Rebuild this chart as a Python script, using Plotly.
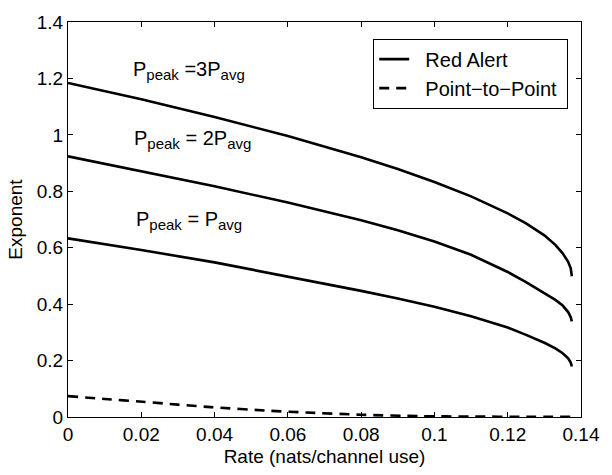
import plotly.graph_objects as go

# ---- data ----
rate_red = [0.0, 0.02, 0.04, 0.06, 0.08, 0.09, 0.10, 0.11, 0.12, 0.125, 0.13,
            0.133, 0.135, 0.1365, 0.1372, 0.1375]
exp_3p = [1.184, 1.126, 1.063, 0.996, 0.921, 0.879, 0.833, 0.782, 0.722, 0.686, 0.644,
          0.610, 0.580, 0.550, 0.527, 0.499]
exp_2p = [0.924, 0.872, 0.818, 0.760, 0.697, 0.662, 0.622, 0.575, 0.514, 0.478, 0.440,
          0.415, 0.395, 0.372, 0.354, 0.339]
exp_1p = [0.633, 0.592, 0.548, 0.498, 0.447, 0.420, 0.391, 0.357, 0.317, 0.291, 0.263,
          0.243, 0.226, 0.208, 0.193, 0.179]

rate_p2p = [0.0, 0.01, 0.0203, 0.03, 0.039, 0.055, 0.065, 0.08, 0.0964, 0.11, 0.125, 0.1375]
exp_p2p = [0.074, 0.064, 0.054, 0.044, 0.035, 0.022, 0.016, 0.008, 0.003, 0.0015, 0.0008, 0.0005]

SUB = "<sub><span style='font-size:15px'>%s</span></sub>"
labels = ["P" + SUB % "peak" + " =3P" + SUB % "avg",
          "P" + SUB % "peak" + " = 2P" + SUB % "avg",
          "P" + SUB % "peak" + " = P" + SUB % "avg"]
label_x = [0.0172, 0.0175, 0.0180]
label_y = [1.228, 0.985, 0.695]

x_ticks = [0, 0.02, 0.04, 0.06, 0.08, 0.1, 0.12, 0.14]
y_ticks = [0, 0.2, 0.4, 0.6, 0.8, 1.0, 1.2, 1.4]

FONT = "Liberation Sans, Arial, sans-serif"
FS = 19

fig = go.Figure()
for i, ys in enumerate([exp_3p, exp_2p, exp_1p]):
    fig.add_trace(go.Scatter(
        x=rate_red, y=ys, mode="lines",
        line=dict(color="black", width=2.6),
        name="\u00a0\u00a0Red Alert", showlegend=(i == 0), legendgroup="ra"))
fig.add_trace(go.Scatter(
    x=rate_p2p, y=exp_p2p, mode="lines",
    line=dict(color="black", width=2.6, dash="10px,7px", shape="spline", smoothing=0.8),
    name="\u00a0\u00a0Point\u2212to\u2212Point\u00a0"))

for t, x, y in zip(labels, label_x, label_y):
    fig.add_annotation(x=x, y=y, xref="x", yref="y", text=t, showarrow=False,
                       xanchor="left", yanchor="middle",
                       font=dict(family=FONT, size=20, color="black"))

axis_common = dict(showline=True, linecolor="black", linewidth=1, mirror="ticks",
                   ticks="inside", ticklen=5, tickcolor="black", showgrid=False,
                   zeroline=False, tickfont=dict(family=FONT, size=FS, color="black"))

fig.update_layout(
    width=612, height=475,
    margin=dict(l=68, r=23, t=15, b=51),
    paper_bgcolor="white", plot_bgcolor="white",
    font=dict(family=FONT, size=FS, color="black"),
    xaxis=dict(range=[0, 0.14], tickvals=x_ticks,
               ticktext=[("%g" % v) for v in x_ticks],
               title=dict(text="Rate (nats/channel use)", standoff=5,
                          font=dict(family=FONT, size=FS, color="black")),
               **axis_common),
    yaxis=dict(range=[0, 1.4], tickvals=y_ticks,
               ticktext=[("%g" % v) for v in y_ticks],
               title=dict(text="Exponent", standoff=9,
                          font=dict(family=FONT, size=FS, color="black")),
               **axis_common),
    legend=dict(x=0.595, y=0.958, xanchor="left", yanchor="top",
                bgcolor="white", bordercolor="black", borderwidth=1,
                font=dict(family=FONT, size=20, color="black"),
                tracegroupgap=0),
    showlegend=True,
)

fig.write_html("out.html")
